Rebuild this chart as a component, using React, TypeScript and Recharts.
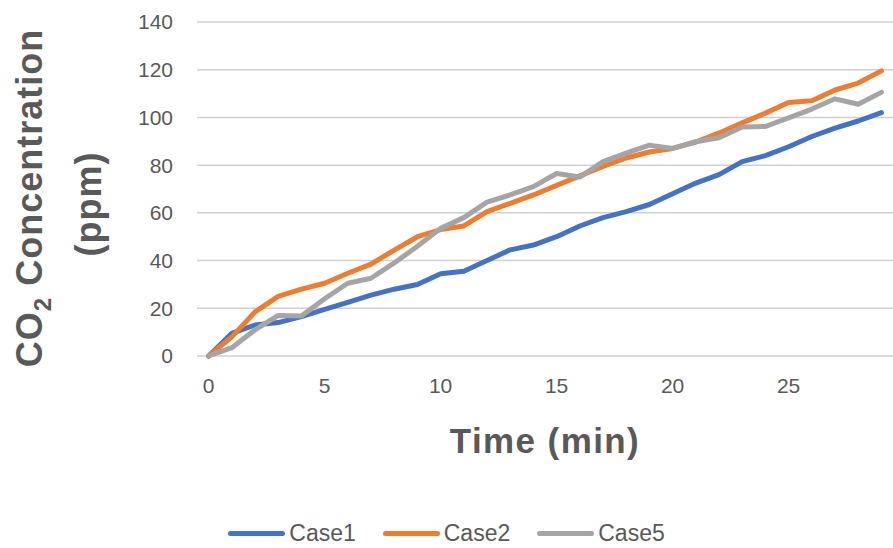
import { LineChart, Line, XAxis, YAxis, CartesianGrid, Legend, Label } from 'recharts'

// minutes
const times = [0, 1, 2, 3, 4, 5, 6, 7, 8, 9, 10, 11, 12, 13, 14, 15, 16, 17, 18, 19, 20, 21, 22, 23, 24, 25, 26, 27, 28, 29]

// CO2 readings in ppm
const case1 = [0, 9.5, 13, 14, 16.5, 19.5, 22.5, 25.5, 28, 30, 34.5, 35.5, 40, 44.5, 46.5, 50, 54.5, 58, 60.5, 63.5, 68, 72.5, 76, 81.5, 84, 87.7, 92, 95.5, 98.5, 102]
const case2 = [0, 8, 18.5, 25, 28, 30.5, 34.7, 38.5, 44.4, 50, 53, 54.5, 60.5, 64, 67.5, 71.5, 75.5, 79.5, 83, 85.5, 87, 89.7, 93.5, 97.7, 101.8, 106.3, 107, 111.5, 114.4, 119.5]
const case5 = [0, 3.5, 11, 17, 16.8, 24, 30.5, 32.6, 39, 46, 53.5, 58, 64.5, 67.5, 71, 76.5, 75, 81.5, 85, 88.4, 87, 89.8, 91.5, 96, 96.2, 99.8, 103.5, 107.8, 105.5, 110.5]

const yTicks = [0, 20, 40, 60, 80, 100, 120, 140]
const xTicks = [0, 5, 10, 15, 20, 25]

const seriesNames = ['Case1', 'Case2', 'Case5']
const seriesColors = ['#4472C4', '#ED7D31', '#A5A5A5']

const data = times.map((t, i) => ({
  t,
  Case1: case1[i],
  Case2: case2[i],
  Case5: case5[i],
}))

const textGray = '#595959'
const font = '"Liberation Sans", Arial, sans-serif'

function YTitle({ viewBox }: any) {
  const x0 = viewBox.x
  return (
    <g fill={textGray} fontFamily={font} fontWeight="bold" fontSize={36} letterSpacing={1}>
      <text x={x0 + 42} y={198} textAnchor="middle" transform={`rotate(-90, ${x0 + 42}, 198)`}>
        <tspan>CO</tspan>
        <tspan fontSize={24} dy={9}>2</tspan>
        <tspan dy={-9}> Concentration</tspan>
      </text>
      <text x={x0 + 101} y={204} textAnchor="middle" transform={`rotate(-90, ${x0 + 101}, 204)`}>
        (ppm)
      </text>
    </g>
  )
}

function XTitle({ viewBox }: any) {
  const cx = viewBox.x + viewBox.width / 2
  return (
    <text
      x={cx}
      y={viewBox.y + 97}
      textAnchor="middle"
      fill={textGray}
      fontFamily={font}
      fontWeight="bold"
      fontSize={35}
      letterSpacing={1.4}
    >
      Time (min)
    </text>
  )
}

function LegendBox() {
  return (
    <div style={{ display: 'flex', justifyContent: 'center', alignItems: 'center', height: 30, gap: 27 }}>
      {seriesNames.map((name, i) => (
        <div key={name} style={{ display: 'flex', alignItems: 'center', gap: 4 }}>
          <div style={{ width: 57, height: 5, borderRadius: 3, background: seriesColors[i] }} />
          <span style={{ fontFamily: font, fontSize: 23, color: textGray, lineHeight: '30px' }}>{name}</span>
        </div>
      ))}
    </div>
  )
}

export default function App() {
  return (
    <div style={{ position: 'absolute', left: 0, top: 0, background: '#fff' }}>
      <LineChart width={893} height={548} data={data} margin={{ top: 22, right: 0, bottom: 0, left: 0 }}>
        <CartesianGrid vertical={false} stroke="#d0d0d0" strokeWidth={1.5} />
        <XAxis
          type="number"
          dataKey="t"
          domain={[-0.5, 29.5]}
          ticks={xTicks}
          allowDataOverflow
          axisLine={false}
          tickLine={false}
          tickSize={0}
          tickMargin={22}
          height={162}
          tick={{ fill: textGray, fontSize: 21, fontFamily: font }}
        >
          <Label content={<XTitle />} />
        </XAxis>
        <YAxis
          type="number"
          domain={[0, 140]}
          ticks={yTicks}
          width={197}
          axisLine={false}
          tickLine={false}
          tickSize={0}
          tickMargin={24}
          tick={{ fill: textGray, fontSize: 21, fontFamily: font }}
        >
          <Label content={<YTitle />} />
        </YAxis>
        <Legend verticalAlign="bottom" height={30} content={<LegendBox />} />
        {seriesNames.map((name, i) => (
          <Line
            key={name}
            type="linear"
            dataKey={name}
            stroke={seriesColors[i]}
            strokeWidth={5}
            strokeLinecap="round"
            strokeLinejoin="round"
            dot={false}
            isAnimationActive={false}
          />
        ))}
      </LineChart>
    </div>
  )
}
